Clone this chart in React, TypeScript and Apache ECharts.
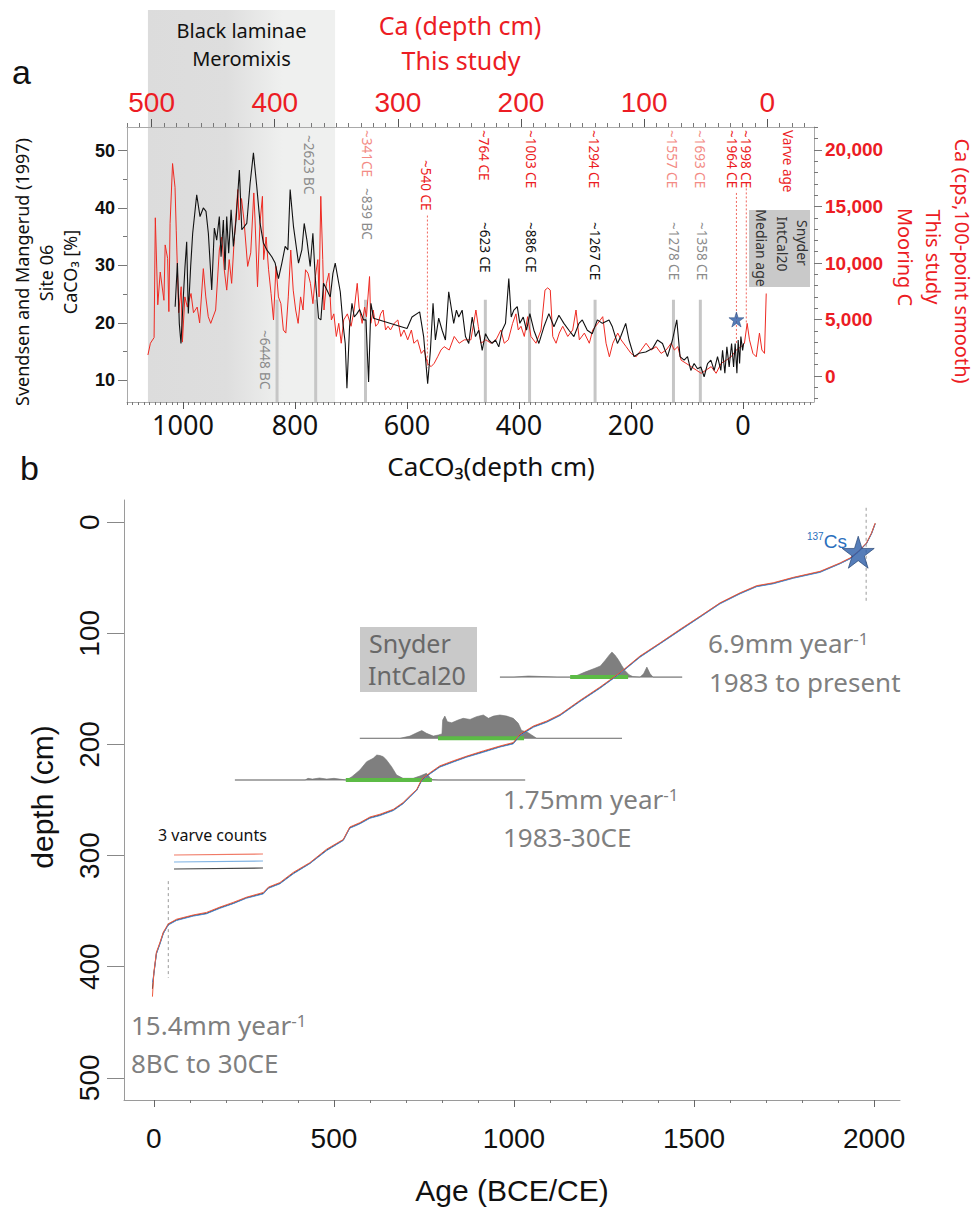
import React, { useEffect, useRef } from "react";
import * as echarts from "echarts";

// ---------- Panel a: Ca counts, Mooring C (top depth axis, right value axis) ----------
const caDepthCm = [
  503, 501, 498, 497, 495, 493, 490, 489, 487, 486,
  485, 483, 481, 480, 478, 476, 475, 473, 471, 468,
  466, 463, 461, 458, 456, 454, 452, 448, 445, 443,
  441, 439, 437, 435, 433, 430, 429, 427, 425, 422,
  419.5, 417, 416, 414, 412, 410, 409, 407, 405, 403,
  401, 399, 397, 395, 393, 391, 389, 387, 385, 383,
  381, 379, 377, 375, 373, 371, 369, 367, 365, 364,
  362.6, 361, 360, 358, 356, 354, 352, 350, 348, 346,
  344, 341, 338, 335.5, 333, 331.5, 329, 327, 325.5, 323,
  322, 320, 318, 316, 314, 312, 310, 308, 306, 303,
  300, 297.6, 295, 292, 289, 287, 284, 281, 278.6, 276,
  273, 270.5, 267.7, 265, 262.4, 258.3, 254.2, 250.2, 246.1, 240.7,
  236.6, 234.7, 232.5, 228.5, 224.4, 220.3, 216.3, 213.6, 210.3, 206.8,
  204.1, 202.2, 200, 197.3, 194.6, 191.9, 187.8, 183.7, 180.5, 178.3,
  176.2, 174.2, 171.5, 168.9, 166.1, 162, 158, 155.3, 152.6, 148.5,
  144.5, 141.7, 137.6, 133.6, 130.9, 128.2, 125.4, 121.4, 118.7, 114.6,
  110.6, 106.5, 102.4, 98.4, 94.3, 90.2, 86.2, 82.1, 78, 75.4,
  72.6, 69.9, 65.9, 61.8, 57.7, 53.7, 49.6, 45.5, 41.5, 37.4,
  33.3, 29.3, 25.2, 21.1, 18.5, 16.3, 14.4, 11.6, 8.9, 6.3,
  4.3, 2.2, 0.8,
];
const caCps = [
  1860, 2900, 3400, 14000, 6300, 9200, 6700, 11600, 10400, 5700,
  13500, 18800, 16700, 12900, 5600, 7900, 3000, 7000, 6100, 7300,
  5600, 6100, 4700, 9500, 7000, 5250, 4660, 5840, 11150, 12300,
  9400, 7600, 10300, 8200, 11900, 16500, 13800, 15700, 13800, 9700,
  10900, 16200, 13800, 7900, 13500, 15900, 10300, 12300, 9400, 7300,
  4960, 9700, 7000, 6400, 4070, 3800, 7000, 11150, 7600, 5840,
  4660, 7000, 5840, 9400, 9100, 8200, 6400, 8800, 10300, 7000,
  15900, 10300, 5840, 8200, 9100, 4960, 5500, 3500, 4660, 2900,
  4960, 5500, 4400, 5840, 8200, 6100, 4660, 6100, 5250, 8800,
  4660, 5840, 4400, 4660, 5500, 5840, 4070, 4400, 4070, 4660,
  4960, 3500, 4070, 3200, 4070, 2900, 3200, 2000, 2300, 1120,
  830, 1120, 1700, 2300, 2600, 2300, 3500, 2900, 3200, 3200,
  5840, 4400, 2900, 3200, 2900, 3200, 4070, 2900, 3200, 4660,
  5500, 4070, 4400, 3500, 5250, 3500, 2900, 4070, 7600, 7800,
  7600, 3500, 2900, 3800, 4400, 3500, 4070, 5840, 3200, 3800,
  2900, 4070, 4660, 5250, 2900, 1700, 2900, 3800, 3200, 2600,
  2000, 1700, 2300, 2900, 2300, 2600, 2000, 2300, 2900, 2300,
  2600, 1400, 1120, 830, 530, 240, 530, 830, 240, 1120,
  1400, 1700, 2300, 2600, 2900, 4660, 3200, 2000, 1700, 3800,
  2300, 2000, 7300,
];

// ---------- Panel a: CaCO3, Svendsen and Mangerud (1997) (bottom depth axis, left axis) ----------
const caco3DepthCm = [
  1014, 1010, 1006.6, 1003.6, 999.4, 996.4, 993.4, 990.5, 986.3, 982.7,
  975.5, 969.6, 963.7, 958.9, 954.7, 948.7, 944, 939.8, 935.1, 932,
  927.9, 924.9, 921.9, 918.4, 914.1, 910, 905.2, 899.3, 895, 886.1,
  880.1, 874.2, 868.2, 862.3, 856.4, 850.3, 841.4, 835.4, 829.5, 823.4,
  817.5, 812.7, 808.6, 802.7, 793.7, 787.7, 783.5, 778.7, 772.8, 768,
  763.9, 757.9, 753.7, 749, 742.9, 737, 732.2, 728.1, 719.1, 714.3,
  710.2, 707.2, 702.5, 698.2, 694.1, 689.3, 684.6, 677.5, 673.2, 668.5,
  664.3, 659.6, 599.9, 591, 577.3, 570.2, 563, 558.1, 553.4, 549.2,
  543.3, 537.2, 531.3, 525.4, 516.5, 511.6, 507.5, 501.4, 495.5, 489.6,
  483.5, 477.6, 471.7, 465.6, 459.7, 453.8, 447.8, 441.9, 436, 429.9,
  424, 418.1, 413.8, 409.1, 403, 398.4, 392.3, 386.4, 380.5, 373.3,
  364.4, 355.4, 346.5, 337.5, 328.6, 319.7, 310.7, 301.8, 292.8, 286.8,
  277.9, 268.9, 259.9, 251, 239.1, 233.1, 224.1, 218.2, 209.3, 203.4,
  194.5, 185.5, 173.5, 161.5, 152.6, 143.6, 134.7, 125.8, 118.1, 112.2,
  105, 98.9, 93, 87.1, 81, 75.1, 69.2, 63.1, 57.2, 51.3,
  45.3, 39.4, 36.3, 32.2, 28.6, 24.5, 20.2, 16.6, 13.8, 10.7,
  8.4, 5.9, 3.6, 0.5, -1.3,
];
const caco3Pct = [
  22.8, 30.4, 19.9, 16.4, 24.5, 29.8, 34.1, 21.6, 29.8, 35.6,
  42.3, 38.5, 40.0, 39.4, 35.6, 25.7, 36.5, 34.4, 38.5, 31.5,
  37.9, 29.2, 38.5, 32.1, 39.7, 33.3, 37.9, 46.6, 36.2, 37.3,
  44.3, 49.6, 43.7, 37.3, 33.9, 32.7, 31.5, 30.4, 27.7, 30.4,
  33.3, 32.7, 43.2, 36.8, 30.4, 32.7, 37.3, 34.4, 29.8, 35.6,
  28.0, 20.8, 20.5, 26.9, 25.7, 24.5, 28.6, 30.4, 25.4, 19.9,
  16.4, 8.6, 19.3, 23.4, 21.0, 21.6, 22.3, 20.5, 20.5, 9.7,
  23.4, 20.8, 19.0, 21.0, 21.9, 17.6, 9.4, 15.2, 23.4, 17.0,
  20.8, 18.7, 17.0, 25.4, 19.9, 22.2, 21.0, 22.2, 17.6, 16.4,
  21.0, 17.6, 18.7, 15.2, 18.1, 17.0, 16.4, 17.0, 15.8, 18.7,
  19.9, 27.7, 21.0, 22.2, 22.8, 19.9, 21.0, 18.7, 21.6, 18.7,
  16.4, 19.3, 21.6, 19.3, 21.3, 19.9, 18.7, 17.6, 19.9, 20.5,
  18.7, 18.1, 20.5, 19.9, 20.5, 19.3, 16.4, 17.6, 19.9, 17.0,
  14.1, 14.7, 14.9, 15.5, 17.0, 16.4, 14.1, 17.0, 20.5, 14.1,
  13.5, 14.1, 11.7, 12.9, 12.0, 12.3, 10.6, 12.9, 13.5, 11.7,
  14.1, 11.7, 15.2, 11.2, 15.8, 12.3, 16.4, 12.3, 16.4, 11.2,
  17.0, 12.9, 17.6, 15.2, 16.4,
];

// Radiocarbon dates on the CaCO3 record (bottom depth axis)
const caco3DateLabels = ["~6448 BC", "~2623 BC", "~839 BC", "~623 CE", "~886 CE", "~1267 CE", "~1278 CE", "~1358 CE"];
const caco3DateDepths = [832, 763, 674, 460, 381, 264, 124, 76];
const caco3DateLabelDepths = [853, 775, 672, 461, 379, 265, 123, 73];
const caco3DateTone = ["gray", "gray", "gray", "black", "black", "black", "gray", "gray"];
const caco3DateBarTop = 24; // CaCO3 %, upper end of the date bars

// Varve ages on the Ca record (top depth axis)
const caDateLabels = ["~341CE", "~540 CE", "~764 CE", "~1003 CE", "~1294 CE", "~1557 CE", "~1693 CE", "~1964 CE", "~1998 CE", "Varve age"];
const caDateDepths = [325, 277, 230, 192, 141, 77, 55, 29, 17, -17];
const caDateTone = ["pink", "red", "red", "red", "red", "pink", "pink", "red", "red", "red"];
// dotted guides below some of the varve ages: depth, top cps, bottom cps
const caGuideDepths = [276, 25, 17];
const caGuideTop = [14200, 16200, 16600];
const caGuideBottom = [700, 2900, 4700];
// 137Cs peak on the Ca record
const csPeakA = [25, 5000];
// Black laminae / meromixis interval (Ca depth, cm)
const meromixisDepths = [503, 351];

// Axis ticks
const caco3DepthTicks = [0, 200, 400, 600, 800, 1000];
const caDepthTicks = [0, 100, 200, 300, 400, 500];
const caco3PctTicks = [10, 20, 30, 40, 50];
const caCpsTicks = [0, 5000, 10000, 15000, 20000];
const ageTicks = [0, 500, 1000, 1500, 2000];
const coreDepthTicks = [0, 100, 200, 300, 400, 500];

// ---------- Panel b: age-depth model, three varve counts ----------
const varveAge = [
  -4, 0, 7, 17, 26, 40, 63, 109, 146, 183,
  220, 257, 304, 318, 350, 387, 433, 480, 526, 544,
  572, 600, 628, 665, 692, 711, 730, 744, 767, 794,
  831, 869, 915, 961, 998, 1017, 1054, 1091, 1128, 1183,
  1239, 1294, 1350, 1406, 1461, 1517, 1572, 1628, 1674, 1720,
  1776, 1850, 1906, 1933, 1956, 1979, 1993, 2003,
];
const varveDepthBlack = [
  420, 406, 388, 379, 370, 362, 358, 354, 352, 347,
  343, 338, 334, 329, 325, 316, 307, 295, 286, 275,
  271, 266, 263.5, 259, 253, 247, 241, 232, 226, 220,
  215.5, 211, 206.5, 202, 199, 191.5, 184, 179.6, 173.6, 161,
  149, 136, 121, 109, 97, 85, 73, 64, 57.6, 55,
  50, 44.7, 37, 32.7, 26.7, 19, 10, 1.2,
];
const varveDepthRed = [
  427, 405, 387, 378, 369, 361.4, 357.3, 353.5, 351.2, 346.4,
  342.2, 337.5, 333.2, 328.4, 324.3, 315.2, 306.4, 294.2, 285.5, 274.3,
  270.4, 265.3, 262.8, 258.4, 252.3, 246.2, 240.5, 231.3, 225.4, 219.3,
  214.8, 210.5, 205.8, 201.4, 198.3, 190.8, 183.4, 178.9, 173, 160.4,
  148.3, 135.5, 120.4, 108.5, 96.4, 84.5, 72.6, 63.5, 57.1, 54.5,
  49.6, 44.2, 36.6, 32.2, 26.3, 18.6, 9.6, 0.8,
];
const varveDepthBlue = [
  414, 406.5, 388.6, 379.4, 370.3, 362.5, 358.4, 354.5, 352.4, 347.5,
  343.3, 338.4, 334.5, 329.5, 325.4, 316.5, 307.3, 295.5, 286.4, 275.4,
  271.5, 266.4, 264, 259.5, 253.4, 247.5, 241.3, 232.4, 226.5, 220.4,
  215.9, 211.4, 207, 202.3, 199.5, 192, 184.5, 180, 174, 161.5,
  149.4, 136.4, 121.5, 109.4, 97.5, 85.4, 73.5, 64.4, 58, 55.4,
  50.4, 45.1, 37.3, 33, 27, 19.3, 10.4, 1.6,
];

// Snyder IntCal20 calibrated age distributions: sample depth, ages, density (drawn height, cm)
const calDepths = [232, 194.5, 139.4];
const calAges = [
  [225, 420, 428, 440, 460, 480, 500, 520, 535, 550, 572, 591, 609, 619, 628, 637, 646, 660, 674, 692, 720, 739, 757, 765, 771, 790, 1031],
  [572, 683, 711, 730, 744, 757, 776, 790, 800, 802, 808, 815, 827, 845, 859, 878, 896, 915, 929, 943, 961, 980, 998, 1012, 1021, 1035, 1049, 1063, 1300],
  [961, 1000, 1040, 1080, 1120, 1160, 1175, 1197, 1225, 1240, 1253, 1265, 1272, 1280, 1289, 1300, 1308, 1320, 1330, 1350, 1360, 1369, 1378, 1386, 1467],
];
const calDensity = [
  [0, 0, 1.5, 0.8, 1.8, 0.8, 1.5, 0.6, 0, 3, 9, 16.5, 19.5, 22.5, 22, 21, 18, 12, 4.5, 1.5, 1.5, 3.6, 6, 3, 0.5, 0, 0],
  [0, 0, 2, 5, 7, 4.5, 2, 3, 4, 16.5, 20, 15, 14, 16.5, 18, 17, 19.5, 21, 18, 20, 21, 20, 18, 13.5, 7, 6, 3, 0, 0],
  [0, 0, 1, 0.5, 0, 0, 1.5, 4.5, 8, 10, 15, 20, 22.5, 20, 16, 10, 6, 2, 0.5, 0, 3, 9, 3, 0, 0],
];
// 95% ranges (green bars)
const calRangeStart = [533, 789, 1156];
const calRangeEnd = [772, 1028, 1317];
// dotted guides: age, top depth, bottom depth
const guideAges = [40, 1978];
const guideTop = [323, -13];
const guideBottom = [410, 72];
// 137Cs marker
const csPeakB = [1956, 27];

const W = 976;
const H = 1215;
const RED = "#ec1c24";
const PINK = "#f38b85";
const LABEL_GRAY = "#8b8b8b";
const MYRIAD = "'Noto Sans', 'Open Sans', 'DejaVu Sans', sans-serif";
const HELV = "'Liberation Sans', Arial, Helvetica, sans-serif";
const STAR = "path://M50,2 L61.2,36.4 L97.6,36.4 L68.2,57.6 L79.4,92 L50,70.8 L20.6,92 L31.8,57.6 L2.4,36.4 L38.8,36.4 Z";

function minorTicks(from: number, to: number, step: number, majors: number[]) {
  const out: number[] = [];
  for (let v = from; v <= to + 1e-9; v += step) {
    const r = Math.round(v * 1000) / 1000;
    if (!majors.includes(r)) out.push(r);
  }
  return out;
}

function zip(xs: number[], ys: number[]) {
  return xs.map((x, i) => [x, ys[i]]);
}

function segments(xs: number[], y0: number[], y1: number[]) {
  const out: any[] = [];
  xs.forEach((x, i) => {
    out.push([x, y0[i]], [x, y1[i]], [x, "-"]);
  });
  return out;
}

function hsegments(y: number[], x0: number[], x1: number[]) {
  const out: any[] = [];
  y.forEach((v, i) => {
    out.push([x0[i], v], [x1[i], v], ["-", v]);
  });
  return out;
}

const plain = (v: number) => String(v);
const gridLine = { show: true, onZero: false, lineStyle: { color: "#a9a9a9", width: 1 } };
const noLine = { show: false, onZero: false };

function baseAxis(extra: any) {
  return {
    type: "value",
    splitLine: { show: false },
    ...extra,
  };
}

function ghostAxis(extra: any, ticks: number[], len: number) {
  return baseAxis({
    ...extra,
    axisLine: noLine,
    axisLabel: { show: false },
    axisTick: { show: true, customValues: ticks, length: len, lineStyle: { color: "#777", width: 1 } },
  });
}

function lineSeries(xi: number, yi: number, data: any[], color: string, width: number, z: number, extra: any = {}) {
  return {
    type: "line",
    xAxisIndex: xi,
    yAxisIndex: yi,
    data,
    symbol: "none",
    showSymbol: false,
    silent: true,
    connectNulls: false,
    lineStyle: { color, width },
    z,
    ...extra,
  };
}

function densitySeries(k: number) {
  const ages = calAges[k];
  const dens = calDensity[k];
  const base = calDepths[k];
  return {
    type: "custom",
    xAxisIndex: 4,
    yAxisIndex: 4,
    silent: true,
    z: 2,
    data: [[ages[0], base]],
    renderItem: (_params: any, api: any) => {
      const pts = ages.map((a, i) => api.coord([a, base - dens[i]]));
      pts.push(api.coord([ages[ages.length - 1], base]));
      pts.push(api.coord([ages[0], base]));
      return {
        type: "polygon",
        shape: { points: pts },
        style: { fill: "#7f7f7f", stroke: "#727272", lineWidth: 0.6 },
      };
    },
  };
}

function buildOption() {
  const caco3X = { gridIndex: 0, position: "bottom", inverse: true, min: -127, max: 1100 };
  const caX = { gridIndex: 0, position: "top", inverse: true, min: -38, max: 520 };
  const pctY = { gridIndex: 0, position: "left", min: 6.2, max: 54.1 };
  const cpsY = { gridIndex: 0, position: "right", min: -2300, max: 22035 };
  const ageX = { gridIndex: 1, position: "bottom", min: -83, max: 2072 };
  const depthY = { gridIndex: 1, position: "left", inverse: true, min: -20, max: 520 };

  return {
    animation: false,
    backgroundColor: "#ffffff",
    grid: [
      { left: 127, top: 127, width: 687, height: 275, outerBoundsMode: "none", containLabel: false },
      { left: 124, top: 500, width: 776, height: 600, outerBoundsMode: "none", containLabel: false },
    ],
    xAxis: [
      baseAxis({
        ...caco3X,
        axisLine: gridLine,
        axisTick: { show: true, customValues: caco3DepthTicks, length: 7, lineStyle: { color: "#555" } },
        axisLabel: { customValues: caco3DepthTicks, formatter: plain, margin: 9, fontSize: 27, color: "#111", fontFamily: MYRIAD },
      }),
      baseAxis({
        ...caX,
        axisLine: gridLine,
        axisTick: { show: true, customValues: caDepthTicks, length: 8, lineStyle: { color: "#555" } },
        axisLabel: { customValues: caDepthTicks, formatter: plain, margin: 11, fontSize: 28, color: RED, fontFamily: HELV },
      }),
      ghostAxis(caco3X, minorTicks(-120, 1100, 10, caco3DepthTicks), 3),
      ghostAxis(caX, minorTicks(-30, 520, 10, caDepthTicks), 4),
      baseAxis({
        ...ageX,
        axisLine: { show: true, onZero: false, lineStyle: { color: "#9a9a9a" } },
        axisTick: { show: true, customValues: ageTicks, length: 7, lineStyle: { color: "#666" } },
        axisLabel: { customValues: ageTicks, formatter: plain, margin: 24, fontSize: 28, color: "#111", fontFamily: HELV },
      }),
      ghostAxis(ageX, minorTicks(0, 2000, 100, ageTicks), 3),
    ],
    yAxis: [
      baseAxis({
        ...pctY,
        axisLine: gridLine,
        axisTick: { show: true, customValues: caco3PctTicks, length: 9, lineStyle: { color: "#777" } },
        axisLabel: { customValues: caco3PctTicks, formatter: plain, margin: 12, fontSize: 18, fontWeight: "bold", color: "#111", fontFamily: HELV },
      }),
      baseAxis({
        ...cpsY,
        axisLine: gridLine,
        axisTick: { show: true, customValues: caCpsTicks, length: 8, lineStyle: { color: "#777" } },
        axisLabel: {
          customValues: caCpsTicks,
          margin: 11,
          fontSize: 19,
          fontWeight: "bold",
          color: RED,
          fontFamily: HELV,
          formatter: (v: number) => v.toLocaleString("en-US"),
        },
      }),
      ghostAxis(pctY, minorTicks(15, 45, 10, []), 4),
      ghostAxis(cpsY, minorTicks(-2000, 22000, 1000, caCpsTicks), 4),
      baseAxis({
        ...depthY,
        axisLine: { show: true, onZero: false, lineStyle: { color: "#9a9a9a" } },
        axisTick: { show: true, customValues: coreDepthTicks, length: 17, lineStyle: { color: "#888" } },
        axisLabel: { customValues: coreDepthTicks, formatter: plain, rotate: 90, margin: 21, fontSize: 28, color: "#111", fontFamily: HELV },
      }),
    ],
    series: [
      // panel a: date bars
      lineSeries(0, 0, segments(caco3DateDepths, caco3DateDepths.map(() => caco3DateBarTop), caco3DateDepths.map(() => 6.2)), "#c6c6c6", 3, 1),
      // panel a: dotted varve-age guides
      lineSeries(1, 1, segments(caGuideDepths, caGuideTop, caGuideBottom), "#f0675e", 1, 1, {
        lineStyle: { color: "#f0675e", width: 1, type: [2, 2] },
      }),
      // panel a: Ca record
      lineSeries(1, 1, zip(caDepthCm, caCps), "#ee2a22", 1, 3),
      // panel a: CaCO3 record
      lineSeries(0, 0, zip(caco3DepthCm, caco3Pct), "#111111", 1.1, 4),
      // panel a: 137Cs star
      {
        type: "scatter",
        xAxisIndex: 1,
        yAxisIndex: 1,
        data: [csPeakA],
        symbol: STAR,
        symbolSize: 15,
        silent: true,
        z: 6,
        itemStyle: { color: "#2c5da6", borderColor: "#1d3f73", borderWidth: 0.6 },
      },
      // panel b: sample baselines
      lineSeries(4, 4, hsegments(calDepths, calAges.map((a) => a[0]), calAges.map((a) => a[a.length - 1])), "#c9c9c9", 1, 1),
      densitySeries(0),
      densitySeries(1),
      densitySeries(2),
      // panel b: 95% ranges
      lineSeries(4, 4, hsegments(calDepths, calRangeStart, calRangeEnd), "#5cbb46", 4, 3),
      // panel b: dotted guides
      lineSeries(4, 4, segments(guideAges, guideTop, guideBottom), "#9a9a9a", 1, 1, {
        lineStyle: { color: "#9a9a9a", width: 1, type: [3, 3] },
      }),
      // panel b: three varve counts
      lineSeries(4, 4, zip(varveAge, varveDepthBlack), "#2e2e2e", 1, 4),
      lineSeries(4, 4, zip(varveAge, varveDepthBlue), "#4a8ad2", 1, 5),
      lineSeries(4, 4, zip(varveAge, varveDepthRed), "#ee5a3f", 1, 6),
      {
        type: "scatter",
        xAxisIndex: 4,
        yAxisIndex: 4,
        data: [csPeakB],
        symbol: STAR,
        symbolSize: 32,
        silent: true,
        z: 8,
        itemStyle: { color: "#2c5da6", borderColor: "#1b3a6b", borderWidth: 0.8 },
      },
    ],
  };
}

function txt(text: string, x: number, y: number, opts: any) {
  const { rotation = 0, align = "left", valign = "middle", color = "#111", size = 16, family = MYRIAD, weight = "normal", rich, z = 10 } = opts;
  return {
    type: "text",
    x,
    y,
    rotation,
    z,
    silent: true,
    style: {
      text,
      fill: color,
      fontSize: size,
      fontFamily: family,
      fontWeight: weight,
      align,
      textAlign: align,
      verticalAlign: valign,
      textVerticalAlign: valign,
      rich,
    },
  };
}

function buildGraphics(chart: any) {
  const g: any[] = [];
  const caPx = (d: number) => chart.convertToPixel({ xAxisIndex: 1 }, d);
  const caco3Px = (d: number) => chart.convertToPixel({ xAxisIndex: 0 }, d);
  const gridBottomA = chart.convertToPixel({ yAxisIndex: 0 }, 6.2);

  // Black laminae / meromixis shading
  const sx0 = caPx(meromixisDepths[0]);
  const sx1 = caPx(meromixisDepths[1]);
  g.push({
    type: "rect",
    z: -1,
    silent: true,
    shape: { x: sx0, y: 10, width: sx1 - sx0, height: gridBottomA - 10 },
    style: {
      fill: new echarts.graphic.LinearGradient(0, 0, 1, 0, [
        { offset: 0, color: "#dcdcdc" },
        { offset: 0.42, color: "#dedede" },
        { offset: 0.72, color: "#eff0ef" },
        { offset: 1, color: "#eff0ef" },
      ]),
    },
  });
  g.push(txt("Black laminae", (sx0 + sx1) / 2, 30, { align: "center", size: 20 }));
  g.push(txt("Meromixis", (sx0 + sx1) / 2, 58, { align: "center", size: 20 }));

  // panel letters and titles
  g.push(txt("a", 12, 72, { size: 34, family: HELV }));
  g.push(txt("b", 20, 468, { size: 34, family: HELV }));
  g.push(txt("Ca (depth cm)", 460, 25, { align: "center", size: 25, color: RED }));
  g.push(txt("This study", 461, 60, { align: "center", size: 25, color: RED }));

  g.push(txt("CaCO\u2083(depth cm)", 491, 466, { align: "center", size: 26 }));

  // left title (reads upwards)
  g.push(txt("Svendsen and Mangerud (1997)", 22, 272, { align: "center", rotation: Math.PI / 2, size: 18 }));
  g.push(txt("Site 06", 46, 273, { align: "center", rotation: Math.PI / 2, size: 18 }));
  g.push(txt("CaCO\u2083 [%]", 70, 272, { align: "center", rotation: Math.PI / 2, size: 18 }));

  // right title (reads downwards)
  g.push(txt("Ca (cps,100-point smooth)", 962, 261, { align: "center", rotation: -Math.PI / 2, size: 20, color: RED }));
  g.push(txt("This study", 933, 257, { align: "center", rotation: -Math.PI / 2, size: 20, color: RED }));
  g.push(txt("Mooring C", 905, 257, { align: "center", rotation: -Math.PI / 2, size: 20, color: RED }));

  // varve-age labels on the Ca record
  caDateLabels.forEach((t, i) => {
    const top = i === 1 ? 160 : 130;
    const color = caDateTone[i] === "pink" ? PINK : RED;
    g.push(txt(t, caPx(caDateDepths[i]), top, { rotation: -Math.PI / 2, size: 13.5, color }));
  });
  // radiocarbon labels on the CaCO3 record
  const caco3Tops = [330, 135, 188, 222, 222, 222, 222, 222];
  caco3DateLabels.forEach((t, i) => {
    const color = caco3DateTone[i] === "gray" ? LABEL_GRAY : "#111";
    g.push(txt(t, caco3Px(caco3DateLabelDepths[i]), caco3Tops[i], { rotation: -Math.PI / 2, size: 13.5, color }));
  });

  // Snyder IntCal20 median age box
  g.push({ type: "rect", z: 5, silent: true, shape: { x: 749, y: 210, width: 61, height: 77 }, style: { fill: "#c9c9c9" } });
  g.push(txt("Snyder", 802, 243, { align: "center", rotation: -Math.PI / 2, size: 14, color: "#333" }));
  g.push(txt("IntCal20", 782, 244, { align: "center", rotation: -Math.PI / 2, size: 14, color: "#333" }));
  g.push(txt("Median age", 761, 248, { align: "center", rotation: -Math.PI / 2, size: 14, color: "#333" }));

  // panel b annotations
  const supRich = (size: number, color: string) => ({ sup: { fontSize: size, fill: color, fontFamily: MYRIAD, verticalAlign: "top", padding: [0, 0, 6, 0] } });
  const G = "#7f7f7f";
  g.push(txt("depth (cm)", 42, 797, { align: "center", rotation: Math.PI / 2, size: 30, family: HELV }));
  g.push(txt("Age (BCE/CE)", 512, 1190, { align: "center", size: 30, family: HELV }));

  g.push(txt("6.9mm year{sup|-1}", 708, 643, { size: 26, color: G, rich: supRich(17, G) }));
  g.push(txt("1983 to present", 709, 682, { size: 26, color: G }));
  g.push(txt("1.75mm year{sup|-1}", 503, 799, { size: 26, color: G, rich: supRich(17, G) }));
  g.push(txt("1983-30CE", 503, 837, { size: 26, color: G }));
  g.push(txt("15.4mm year{sup|-1}", 131, 1025, { size: 26, color: G, rich: supRich(17, G) }));
  g.push(txt("8BC to 30CE", 131, 1063, { size: 26, color: G }));

  g.push({ type: "rect", z: 5, silent: true, shape: { x: 360, y: 627, width: 117, height: 65 }, style: { fill: "#c9c9c9" } });
  g.push(txt("Snyder", 369, 643, { size: 25, color: "#686868" }));
  g.push(txt("IntCal20", 368, 675, { size: 25, color: "#686868" }));

  g.push(txt("{sup|137}Cs", 807, 541, { size: 19, color: "#2a6fbd", family: HELV, rich: { sup: { fontSize: 10, fill: "#2a6fbd", fontFamily: HELV, verticalAlign: "top" } } }));

  g.push(txt("3 varve counts", 158, 835, { size: 16, color: "#111" }));
  g.push({ type: "line", z: 10, silent: true, shape: { x1: 174, y1: 855, x2: 263, y2: 854 }, style: { stroke: "#f07a66", lineWidth: 1.2 } });
  g.push({ type: "line", z: 10, silent: true, shape: { x1: 174, y1: 862, x2: 263, y2: 861 }, style: { stroke: "#7fb2e3", lineWidth: 1.2 } });
  g.push({ type: "line", z: 10, silent: true, shape: { x1: 174, y1: 869, x2: 263, y2: 868 }, style: { stroke: "#444", lineWidth: 1.2 } });

  return g;
}

export default function App() {
  const ref = useRef<HTMLDivElement>(null);
  useEffect(() => {
    document.body.style.margin = "0";
    document.body.style.overflow = "hidden";
    const chart = echarts.init(ref.current!, null, { renderer: "svg" });
    chart.setOption(buildOption() as any);
    chart.setOption({ graphic: buildGraphics(chart) } as any);
    return () => chart.dispose();
  }, []);
  return <div ref={ref} style={{ width: W, height: H }} />;
}
